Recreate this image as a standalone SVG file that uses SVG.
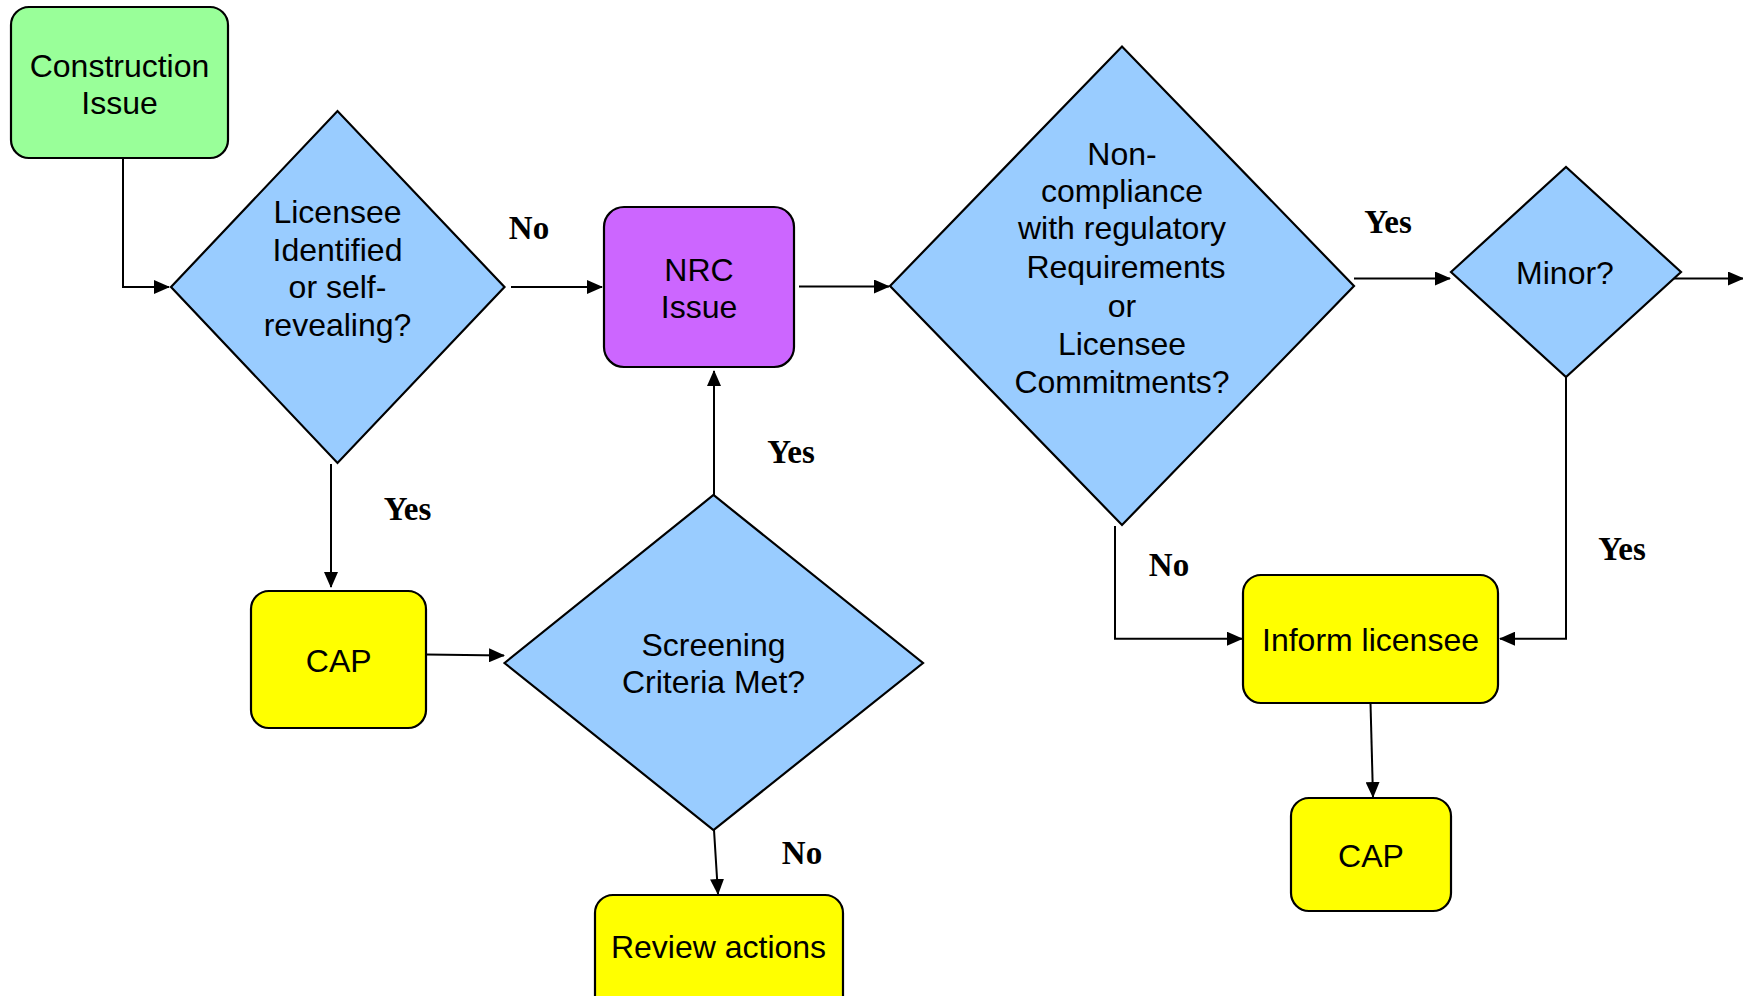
<svg xmlns="http://www.w3.org/2000/svg" width="1743" height="996" viewBox="0 0 1743 996">
<style>
.box{stroke:#000;stroke-width:2.2}
.t{font-family:"Liberation Sans",Arial,sans-serif;font-size:32px;fill:#000;text-anchor:middle}
.lbl{font-family:"Liberation Serif","Times New Roman",serif;font-weight:bold;font-size:33px;fill:#000;text-anchor:middle}
.c{fill:none;stroke:#000;stroke-width:2}
.green{fill:#99FF99}.blue{fill:#99CCFF}.purple{fill:#CC66FF}.yellow{fill:#FFFF00}
</style>
<defs>
<marker id="ah" markerUnits="userSpaceOnUse" markerWidth="16" markerHeight="14" refX="15" refY="7" orient="auto">
<path d="M0,0 L16,7 L0,14 Z" fill="#000"/>
</marker>
</defs>
<rect width="1743" height="996" fill="#fff"/>
<g id="connectors">
<path class="c" d="M123,158 V287 H169" marker-end="url(#ah)"/>
<path class="c" d="M511,287 H602" marker-end="url(#ah)"/>
<path class="c" d="M799,286.5 H889" marker-end="url(#ah)"/>
<path class="c" d="M1354,278.5 H1450" marker-end="url(#ah)"/>
<path class="c" d="M1673,278.5 H1743" marker-end="url(#ah)"/>
<path class="c" d="M331,464 V587" marker-end="url(#ah)"/>
<path class="c" d="M426,654.5 L504,655.5" marker-end="url(#ah)"/>
<path class="c" d="M714,496 V371" marker-end="url(#ah)"/>
<path class="c" d="M714,830 L718,894" marker-end="url(#ah)"/>
<path class="c" d="M1115,526 V638.7 H1242" marker-end="url(#ah)"/>
<path class="c" d="M1566,377 V638.7 H1500" marker-end="url(#ah)"/>
<path class="c" d="M1370.5,703 L1373,797" marker-end="url(#ah)"/>
<text class="lbl" x="529" y="239">No</text>
<text class="lbl" x="407.5" y="520">Yes</text>
<text class="lbl" x="791" y="463">Yes</text>
<text class="lbl" x="1388" y="232.5">Yes</text>
<text class="lbl" x="1169" y="576">No</text>
<text class="lbl" x="1622" y="560">Yes</text>
<text class="lbl" x="802" y="864">No</text>
</g>
<g id="construction">
<rect class="box green" x="11" y="7" width="217" height="151" rx="18"/>
<text class="t" x="119.5" y="77">Construction</text>
<text class="t" x="119.5" y="114">Issue</text>
</g>
<g id="licensee">
<polygon class="box blue" points="171,287 337.5,111 504.5,287 337.5,463"/>
<text class="t" x="337.5" y="222.7">Licensee</text>
<text class="t" x="337.5" y="260.5">Identified</text>
<text class="t" x="337.5" y="298">or self-</text>
<text class="t" x="337.5" y="335.5">revealing?</text>
</g>
<g id="nrc">
<rect class="box purple" x="604" y="207" width="190" height="160" rx="20"/>
<text class="t" x="699" y="280.7">NRC</text>
<text class="t" x="699" y="317.5">Issue</text>
</g>
<g id="noncompliance">
<polygon class="box blue" points="890,286 1122,46.5 1354,286 1122,525"/>
<text class="t" x="1122" y="164.6">Non-</text>
<text class="t" x="1122" y="201.5">compliance</text>
<text class="t" x="1122" y="239.4">with regulatory</text>
<text class="t" x="1126" y="278.3">Requirements</text>
<text class="t" x="1122" y="316.8">or</text>
<text class="t" x="1122" y="354.7">Licensee</text>
<text class="t" x="1122" y="392.6">Commitments?</text>
</g>
<g id="minor">
<polygon class="box blue" points="1451,272 1566,167 1681,272 1566,377"/>
<text class="t" x="1565" y="284">Minor?</text>
</g>
<g id="cap1">
<rect class="box yellow" x="251" y="591" width="175" height="137" rx="18"/>
<text class="t" x="338.7" y="671.7">CAP</text>
</g>
<g id="screening">
<polygon class="box blue" points="504.5,663 713.5,495 923,663 713.5,830"/>
<text class="t" x="713.5" y="656">Screening</text>
<text class="t" x="713.5" y="693.3">Criteria Met?</text>
</g>
<g id="review">
<rect class="box yellow" x="595" y="895" width="248" height="130" rx="18"/>
<text class="t" x="718.5" y="957.7">Review actions</text>
</g>
<g id="inform">
<rect class="box yellow" x="1243" y="575" width="255" height="128" rx="18"/>
<text class="t" x="1370.5" y="650.7">Inform licensee</text>
</g>
<g id="cap2">
<rect class="box yellow" x="1291" y="798" width="160" height="113" rx="18"/>
<text class="t" x="1371" y="866.7">CAP</text>
</g>
</svg>
